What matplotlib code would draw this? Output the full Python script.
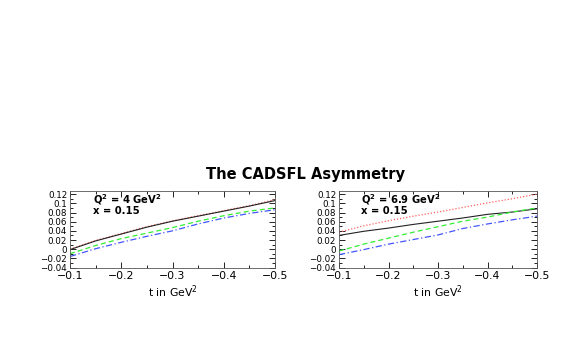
import matplotlib
matplotlib.use("Agg")
import matplotlib.pyplot as plt
from matplotlib.ticker import MultipleLocator

plt.rcParams['font.family'] = ['DejaVu Sans']
plt.rcParams['mathtext.fontset'] = 'dejavusans'

t = [-0.1, -0.15, -0.2, -0.25, -0.3, -0.35, -0.4, -0.45, -0.5]

# Panel 1: Q^2 = 4 GeV^2
p1_black = [-0.001, 0.018, 0.033, 0.048, 0.061, 0.072, 0.083, 0.094, 0.106]
p1_red = [0.000, 0.019, 0.034, 0.049, 0.062, 0.073, 0.084, 0.095, 0.108]
p1_green = [-0.010, 0.008, 0.023, 0.035, 0.047, 0.061, 0.073, 0.083, 0.090]
p1_blue = [-0.016, 0.001, 0.015, 0.028, 0.040, 0.055, 0.068, 0.078, 0.086]

# Panel 2: Q^2 = 6.9 GeV^2
p2_red = [0.037, 0.051, 0.062, 0.072, 0.081, 0.091, 0.101, 0.110, 0.120]
p2_black = [0.030, 0.039, 0.046, 0.054, 0.061, 0.068, 0.076, 0.081, 0.088]
p2_green = [-0.004, 0.011, 0.024, 0.037, 0.049, 0.061, 0.070, 0.081, 0.090]
p2_blue = [-0.012, -0.001, 0.011, 0.021, 0.031, 0.045, 0.055, 0.064, 0.072]

x_ticks = [-0.1, -0.2, -0.3, -0.4, -0.5]
x_ticklabels = ['\u22120.1', '\u22120.2', '\u22120.3', '\u22120.4', '\u22120.5']
y_ticks = [-0.04, -0.02, 0, 0.02, 0.04, 0.06, 0.08, 0.1, 0.12]
y_ticklabels = ['\u22120.04', '\u22120.02', '0', '0.02', '0.04', '0.06', '0.08', '0.1', '0.12']

W, H = 572, 354
fig = plt.figure(figsize=(W / 100, H / 100), dpi=100)

panels = [
    ((70, 190.5, 275, 267.5), p1_black, p1_red, p1_green, p1_blue, "Q$^\\mathbf{2}$ = 4 GeV$^\\mathbf{2}$"),
    ((339, 190.5, 537, 267.5), p2_black, p2_red, p2_green, p2_blue, "Q$^\\mathbf{2}$ = 6.9 GeV$^\\mathbf{2}$"),
]

for (x0, y0, x1, y1), bk, rd, gr, bl, lab in panels:
    ax = fig.add_axes([x0 / W, 1 - y1 / H, (x1 - x0) / W, (y1 - y0) / H])
    ax.plot(t, rd, color='#ff6060', lw=0.9, ls=(0, (1, 1.5)))
    ax.plot(t, bk, color='#222222', lw=0.8, ls='-')
    ax.plot(t, gr, color='#33ee33', lw=0.9, ls=(0, (4, 2.5)))
    ax.plot(t, bl, color='#4455ff', lw=0.9, ls=(0, (5, 2, 1, 2)))
    ax.set_xlim(-0.1, -0.5)
    ax.set_ylim(-0.04, 0.128)
    ax.xaxis.set_minor_locator(MultipleLocator(0.05))
    ax.yaxis.set_minor_locator(MultipleLocator(0.01))
    ax.set_yticks(y_ticks)
    ax.set_yticklabels(y_ticklabels)
    ax.set_xticks(x_ticks)
    ax.set_xticklabels(x_ticklabels)
    ax.tick_params(which='both', direction='in', top=True, right=True, labelsize=6.3, pad=2, width=0.6)
    ax.tick_params(axis='x', labelsize=7.8, pad=2.5)
    ax.tick_params(which='major', length=4)
    ax.tick_params(which='minor', length=2)
    for s in ax.spines.values():
        s.set_linewidth(0.6)
        s.set_color('#555555')
    ax.text(0.11, 0.835, lab, transform=ax.transAxes, fontsize=7.2, fontweight='bold', va='baseline', ha='left')
    ax.text(0.11, 0.695, "x = 0.15", transform=ax.transAxes, fontsize=7.2, fontweight='bold', va='baseline', ha='left')
    ax.set_xlabel("t in GeV$^2$", fontsize=7.8, labelpad=1.5)

fig.text(305 / W, 1 - 174 / H, "The CADSFL Asymmetry", ha='center', va='center', fontsize=10.5, fontweight='bold')

fig.savefig("out.png", dpi=100)
